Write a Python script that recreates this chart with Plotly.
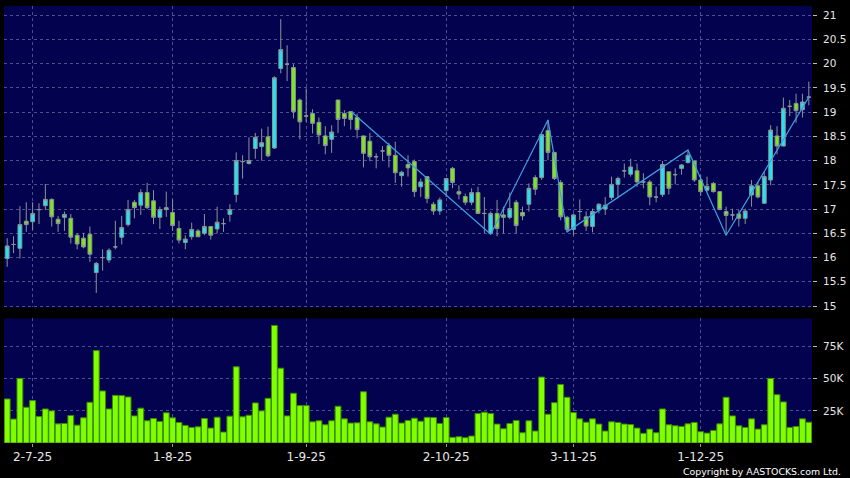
import pandas as pd
import plotly.graph_objects as go

# ---- data -------------------------------------------------------------
holidays = ["2025-07-01", "2025-10-01", "2025-10-07", "2025-10-29",
            "2025-12-25", "2025-12-26"]

open_ = [15.98, 16.27, 16.19, 16.75, 16.74, 16.99, 17.07, 17.20, 16.79, 16.83,
         16.81, 16.46, 16.40, 16.48, 15.69, 16.00, 15.95, 16.22, 16.42, 16.68,
         17.14, 17.08, 17.34, 17.17, 16.83, 16.99, 16.93, 16.60, 16.31, 16.43,
         16.55, 16.50, 16.64, 16.59, 16.70, 16.89, 17.30, 17.98, 17.94, 18.25,
         18.29, 18.49, 18.26, 19.90, 19.99, 19.92, 19.25, 18.92, 18.97, 18.79,
         18.51, 18.44, 19.25, 18.97, 19.01, 18.89, 18.51, 18.40, 18.08, 18.20,
         18.31, 18.11, 17.69, 17.92, 17.98, 17.46, 17.67, 17.10, 16.96, 17.38,
         17.84, 17.36, 17.26, 17.14, 17.34, 16.91, 16.50, 16.91, 16.88, 16.83,
         17.14, 16.93, 17.10, 17.65, 17.65, 18.62, 18.17, 17.55, 16.83, 16.58,
         16.95, 16.84, 16.64, 16.98, 17.00, 17.24, 17.51, 17.79, 17.72, 17.79,
         17.56, 17.56, 17.25, 17.30, 17.77, 17.71, 17.84, 17.96, 17.99, 17.60,
         17.39, 17.53, 17.36, 16.95, 16.88, 16.90, 16.81, 17.29, 17.48, 17.12,
         17.60, 18.51, 18.30, 19.12, 19.18, 19.05, 19.31]
high = [16.40, 16.44, 17.06, 17.14, 17.14, 17.12, 17.52, 17.22, 16.86, 16.95,
        16.90, 16.50, 16.51, 16.64, 15.91, 16.17, 16.19, 16.76, 16.86, 17.19,
        17.19, 17.41, 17.54, 17.39, 17.05, 17.36, 17.20, 16.76, 16.46, 16.72,
        16.59, 16.90, 16.65, 17.05, 16.81, 17.10, 18.17, 18.11, 18.48, 18.57,
        18.66, 18.70, 19.74, 20.92, 20.38, 19.99, 19.28, 19.49, 19.06, 18.89,
        18.71, 18.73, 19.25, 19.04, 19.02, 18.97, 18.51, 18.57, 18.15, 18.30,
        18.37, 18.39, 17.79, 18.11, 18.02, 17.63, 17.67, 17.15, 17.24, 17.63,
        17.87, 17.49, 17.32, 17.43, 17.46, 17.25, 16.95, 17.19, 17.05, 17.34,
        17.19, 17.05, 17.53, 17.70, 18.56, 18.84, 18.18, 17.60, 16.86, 16.91,
        17.20, 16.95, 17.01, 17.12, 17.25, 17.67, 17.67, 17.94, 18.04, 17.94,
        17.74, 17.60, 17.46, 17.99, 17.77, 17.84, 17.93, 18.22, 18.00, 17.70,
        17.67, 17.56, 17.36, 17.05, 17.01, 16.98, 17.01, 17.60, 17.56, 17.77,
        18.73, 18.71, 19.30, 19.25, 19.38, 19.38, 19.63]
low = [15.81, 16.09, 15.98, 16.53, 16.57, 16.69, 16.98, 16.64, 16.53, 16.55,
       16.29, 16.17, 16.19, 15.91, 15.27, 15.73, 15.89, 16.17, 16.27, 16.64,
       16.81, 16.88, 17.00, 16.69, 16.59, 16.84, 16.55, 16.29, 16.17, 16.37,
       16.42, 16.46, 16.37, 16.50, 16.53, 16.74, 17.14, 17.63, 17.92, 18.04,
       18.00, 18.07, 18.24, 19.80, 19.64, 18.87, 18.44, 18.80, 18.56, 18.34,
       18.13, 18.16, 18.57, 18.71, 18.64, 18.46, 17.86, 17.99, 17.84, 18.00,
       17.86, 17.54, 17.46, 17.67, 17.25, 17.25, 17.12, 16.88, 16.88, 17.25,
       17.43, 17.20, 17.08, 17.08, 16.90, 16.50, 16.48, 16.44, 16.50, 16.79,
       16.50, 16.77, 16.95, 17.29, 17.60, 18.01, 17.60, 16.77, 16.53, 16.46,
       16.77, 16.55, 16.52, 16.91, 16.88, 17.19, 17.22, 17.65, 17.67, 17.46,
       17.43, 17.08, 17.14, 17.25, 17.30, 17.51, 17.71, 17.94, 17.56, 17.27,
       17.36, 17.34, 16.98, 16.46, 16.77, 16.64, 16.69, 17.05, 17.22, 17.12,
       17.49, 18.13, 18.30, 18.92, 18.78, 18.89, 19.14]
close = [16.24, 16.27, 16.68, 16.68, 16.91, 16.99, 17.20, 16.84, 16.70, 16.89,
         16.42, 16.28, 16.22, 16.07, 15.88, 16.00, 16.15, 16.22, 16.62, 16.99,
         17.03, 17.34, 17.03, 16.83, 16.99, 17.03, 16.66, 16.36, 16.38, 16.58,
         16.43, 16.64, 16.46, 16.73, 16.70, 16.99, 18.00, 17.98, 18.00, 18.48,
         18.37, 18.10, 19.71, 20.29, 19.99, 19.01, 18.80, 18.92, 18.77, 18.53,
         18.31, 18.59, 18.85, 18.87, 18.85, 18.64, 18.15, 18.08, 18.08, 18.20,
         18.11, 17.75, 17.76, 17.85, 17.36, 17.56, 17.22, 16.96, 17.19, 17.63,
         17.55, 17.31, 17.14, 17.34, 16.91, 16.91, 16.91, 16.60, 16.83, 17.01,
         16.66, 16.86, 17.43, 17.41, 18.54, 18.17, 17.63, 16.84, 16.58, 16.88,
         16.95, 16.65, 16.95, 17.10, 17.08, 17.51, 17.63, 17.79, 17.87, 17.56,
         17.56, 17.25, 17.25, 17.92, 17.43, 17.71, 17.91, 18.11, 17.60, 17.36,
         17.47, 17.36, 16.99, 16.87, 16.88, 16.81, 16.96, 17.48, 17.25, 17.67,
         18.63, 18.30, 19.08, 19.12, 19.03, 19.21, 19.31]
volume_k = [34.3, 18.6, 50.3, 27.8, 33.0, 20.6, 26.5, 25.0, 14.9, 15.2,
            21.4, 13.9, 19.6, 31.7, 71.9, 40.5, 26.5, 37.1, 36.9, 35.8,
            21.1, 27.1, 17.3, 19.1, 16.8, 23.5, 19.6, 16.0, 13.7, 12.1,
            12.6, 19.1, 11.6, 20.1, 8.5, 20.9, 59.3, 20.4, 21.6, 31.2,
            25.0, 34.8, 91.5, 58.2, 21.1, 38.7, 29.1, 29.1, 16.5, 17.3,
            14.2, 17.3, 28.6, 18.8, 15.5, 15.7, 39.9, 16.5, 14.9, 12.4,
            20.1, 22.4, 15.5, 17.5, 19.3, 17.0, 20.0, 19.8, 15.2, 19.8,
            4.4, 4.9, 4.1, 5.4, 22.9, 24.0, 22.9, 14.7, 11.1, 15.2,
            17.5, 8.0, 17.3, 9.3, 51.3, 22.4, 31.4, 45.6, 35.6, 23.7,
            18.8, 16.2, 18.8, 14.7, 9.3, 16.5, 16.0, 14.7, 14.4, 11.6,
            7.5, 10.8, 8.0, 26.5, 14.2, 13.4, 12.9, 14.9, 16.0, 8.8,
            7.7, 9.8, 14.9, 35.6, 21.1, 13.4, 12.1, 18.8, 10.8, 14.2,
            50.3, 37.6, 32.0, 12.1, 12.9, 18.8, 16.2]

# zig-zag turning points (trading-day index, price)
zz_index = [54, 76, 85, 88, 107, 113, 126]
zz_price = [19.02, 16.48, 18.84, 16.53, 18.22, 16.46, 19.31]

tick_dates = ["2025-07-02", "2025-08-01", "2025-09-01", "2025-10-02",
              "2025-11-03", "2025-12-01"]
tick_text = ["2-7-25", "1-8-25", "1-9-25", "2-10-25", "3-11-25", "1-12-25"]

price_ticks = [15, 15.5, 16, 16.5, 17, 17.5, 18, 18.5, 19, 19.5, 20, 20.5, 21]
price_tick_text = ["15", "15.5", "16", "16.5", "17", "17.5", "18", "18.5",
                   "19", "19.5", "20", "20.5", "21"]
vol_ticks = [25000, 50000, 75000]
vol_tick_text = ["25K", "50K", "75K"]

# ---- trading calendar -------------------------------------------------
n = len(close)
days = pd.bdate_range("2025-06-25", "2025-12-31")
days = [d.strftime("%Y-%m-%d") for d in days if d.strftime("%Y-%m-%d") not in holidays]
dates = days[:n]
volume = [v * 1000 for v in volume_k]
zz_x = [dates[i] for i in zz_index]

# ---- styling ----------------------------------------------------------
NAVY = "#02024e"
GRID = "#4e4e8c"
GRID_DASH = "3px,3px"
TXT = "#e6e6e6"
FONT = "DejaVu Sans"

fig = go.Figure()
fig.add_trace(go.Candlestick(
    x=dates, open=open_, high=high, low=low, close=close,
    increasing=dict(fillcolor="#24e2f0", line=dict(color="#8a9696", width=1)),
    decreasing=dict(fillcolor="#7fe61e", line=dict(color="#8a9696", width=1)),
    whiskerwidth=0, xaxis="x", yaxis="y", showlegend=False))
fig.add_trace(go.Scatter(
    x=zz_x, y=zz_price, mode="lines",
    line=dict(color="#3f9fe2", width=1.2),
    xaxis="x", yaxis="y", hoverinfo="skip", showlegend=False))
fig.add_trace(go.Bar(
    x=dates, y=volume,
    marker=dict(color="#80ff00", line=dict(color="#3d8a00", width=1)),
    xaxis="x2", yaxis="y2", showlegend=False))

xrange = [-0.5, n - 0.5]
common_x = dict(type="category", categoryorder="array", categoryarray=dates,
                range=xrange, tickvals=tick_dates,
                showgrid=True, gridcolor=GRID, griddash=GRID_DASH, gridwidth=1,
                zeroline=False, showline=False, fixedrange=True)

fig.update_layout(
    width=850, height=478, autosize=False,
    margin=dict(l=4, r=36, t=6, b=35),
    paper_bgcolor="#000000", plot_bgcolor=NAVY,
    showlegend=False, bargap=0.08, boxgap=0.15,
    font=dict(family=FONT, color=TXT),
    xaxis=dict(common_x, domain=[0, 1], anchor="y", showticklabels=False,
               ticks="", rangeslider=dict(visible=False)),
    xaxis2=dict(common_x, domain=[0, 1], anchor="y2", ticktext=tick_text,
                ticks="outside", ticklen=3, tickcolor="#9a9a9a",
                tickfont=dict(family=FONT, size=12, color=TXT)),
    yaxis=dict(domain=[0.3101, 1], anchor="x", side="right",
               range=[14.97, 21.19], tickvals=price_ticks, ticktext=price_tick_text,
               showgrid=True, gridcolor=GRID, griddash=GRID_DASH, gridwidth=1,
               zeroline=False, ticks="outside", ticklen=4, tickcolor="#bdbdbd",
               ticklabelstandoff=4, fixedrange=True,
               tickfont=dict(family=FONT, size=10.5, color=TXT)),
    yaxis2=dict(domain=[0, 0.2849], anchor="x2", side="right",
                range=[0, 96900], tickvals=vol_ticks, ticktext=vol_tick_text,
                showgrid=True, gridcolor=GRID, griddash=GRID_DASH, gridwidth=1,
                zeroline=False, ticks="outside", ticklen=4, tickcolor="#bdbdbd",
                ticklabelstandoff=4, fixedrange=True,
                tickfont=dict(family=FONT, size=10.5, color=TXT)),
    annotations=[dict(text="Copyright by AASTOCKS.com Ltd.", xref="paper", yref="paper",
                      x=1.0383, y=-0.0655, xanchor="right", yanchor="middle",
                      showarrow=False, font=dict(family=FONT, size=9.4, color="#ffffff"))],
)

fig.write_html("out.html", config={"displayModeBar": False},
               post_script="document.body.style.margin='0';document.body.style.background='#000';")
